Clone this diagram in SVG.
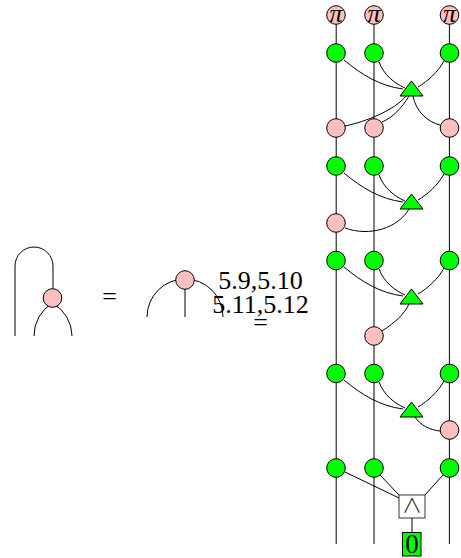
<svg xmlns="http://www.w3.org/2000/svg" width="461" height="558" viewBox="0 0 461 558">
<style>
.w{fill:none;stroke:#000;stroke-width:1}
.g{fill:#0f0;stroke:#000;stroke-width:1}
.p{fill:#ffbfbf;stroke:#000;stroke-width:1}
text{font-family:"Liberation Serif","Times New Roman",serif;fill:#000;text-anchor:middle}
.l{font-size:26px}
.pi{font-size:26px;font-style:italic}
</style>
<defs>
<circle id="gc" class="g" r="9.3"/>
<circle id="pc" class="p" r="9.3"/>
<path id="tri" class="g" d="M0,0L11.5,15H-11.5Z"/>
</defs>
<g id="connectors">
<path class="w" d="M336.200,24V544M374,24V544M449.400,24V544"/>
<path class="w" d="M344,60C362,75 380,86 403,89M379,62C384,75 394,83 405,88M444,61C438,72 428,81 418,87"/>
<path class="w" d="M345,126C365,122 395,110 406,96M382,122C392,118 402,108 409,96M413,96C416,112 428,122 440,125"/>
<path class="w" d="M344,173C362,188 380,199 403,202M379,175C384,188 394,196 405,201M444,174C438,185 428,194 418,200"/>
<path class="w" d="M345,228C370,237 398,228 409,209"/>
<path class="w" d="M344,267C362,282 380,293 403,296M379,269C384,282 394,290 405,295M444,268C438,279 428,288 418,294"/>
<path class="w" d="M382,331C394,323 404,315 409,304"/>
<path class="w" d="M344,380C362,395 380,406 403,409M379,382C384,395 394,403 405,408M444,381C438,392 428,401 418,407"/>
<path class="w" d="M415,417C420,425 430,430 440,431"/>
<path class="w" d="M345,472L399,498M380,475L399,495M443,475L425,495M412,518V532"/>
<path class="w" d="M15,336V266A19,19 0 0 1 53,266V289"/>
<path class="w" d="M34,336A38,38 0 0 1 52.500,303M72,336A38,38 0 0 0 52.500,303"/>
<path class="w" d="M147,317A38,38 0 0 1 223,317M185,289V317"/>
</g>
<g id="pi1"><use href="#pc" x="336" y="15"/><text class="pi" x="336" y="22">π</text></g>
<g id="pi2"><use href="#pc" x="374" y="15"/><text class="pi" x="374" y="22">π</text></g>
<g id="pi3"><use href="#pc" x="449.5" y="15"/><text class="pi" x="449.5" y="22">π</text></g>
<g id="g1a"><use href="#gc" x="336" y="53"/></g>
<g id="g1b"><use href="#gc" x="374" y="53"/></g>
<g id="g1c"><use href="#gc" x="449.5" y="53"/></g>
<g id="t1"><use href="#tri" x="411.5" y="81"/></g>
<g id="p1a"><use href="#pc" x="336" y="128"/></g>
<g id="p1b"><use href="#pc" x="374" y="128"/></g>
<g id="p1c"><use href="#pc" x="449.5" y="128"/></g>
<g id="g2a"><use href="#gc" x="336" y="166"/></g>
<g id="g2b"><use href="#gc" x="374" y="166"/></g>
<g id="g2c"><use href="#gc" x="449.5" y="166"/></g>
<g id="t2"><use href="#tri" x="411.5" y="194"/></g>
<g id="p2"><use href="#pc" x="336" y="223"/></g>
<g id="g3a"><use href="#gc" x="336" y="260.500"/></g>
<g id="g3b"><use href="#gc" x="374" y="260.500"/></g>
<g id="g3c"><use href="#gc" x="449.5" y="260.500"/></g>
<g id="t3"><use href="#tri" x="411.5" y="289"/></g>
<g id="p3"><use href="#pc" x="374" y="336"/></g>
<g id="g4a"><use href="#gc" x="336" y="373.500"/></g>
<g id="g4b"><use href="#gc" x="374" y="373.500"/></g>
<g id="g4c"><use href="#gc" x="449.5" y="373.500"/></g>
<g id="t4"><use href="#tri" x="411.5" y="402"/></g>
<g id="p4"><use href="#pc" x="449.5" y="430"/></g>
<g id="g5a"><use href="#gc" x="336" y="468"/></g>
<g id="g5b"><use href="#gc" x="374" y="468"/></g>
<g id="g5c"><use href="#gc" x="449.5" y="468"/></g>
<g id="and"><rect x="399" y="495" width="26" height="23" fill="#fff" stroke="#000" stroke-opacity=".8"/><text x="412" y="513" style="font-family:'Noto Sans CJK JP',sans-serif;font-size:20px;font-weight:300">∧</text></g>
<g id="zero"><rect x="402.500" y="532.500" width="18.500" height="23.500" fill="#0f0" stroke="#000"/><text x="412" y="552.500" style="font-size:27px">0</text></g>
<g id="pl"><use href="#pc" x="52.5" y="298"/></g>
<g id="pr"><use href="#pc" x="185" y="280"/></g>
<text class="l" x="109.500" y="305">=</text>
<text class="l" x="260.500" y="289">5.9,5.10</text>
<text class="l" x="260.500" y="313">5.11,5.12</text>
<text class="l" x="260.500" y="331">=</text>
</svg>
